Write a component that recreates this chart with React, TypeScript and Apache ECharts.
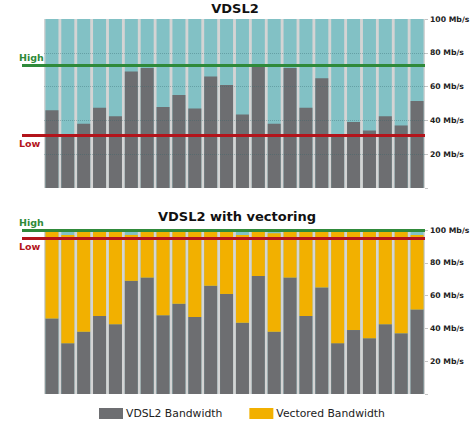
import React, { useEffect, useRef } from "react";
import * as echarts from "echarts";

const categories = [
  "L1", "L2", "L3", "L4", "L5", "L6", "L7", "L8", "L9", "L10", "L11", "L12",
  "L13", "L14", "L15", "L16", "L17", "L18", "L19", "L20", "L21", "L22", "L23", "L24",
];
const lineCapacity = [
  100, 100, 100, 100, 100, 100, 100, 100, 100, 100, 100, 100,
  100, 100, 100, 100, 100, 100, 100, 100, 100, 100, 100, 100,
];
const vdsl2Bandwidth = [
  46, 31, 38, 47.5, 42.5, 69, 71, 48, 55, 47, 66, 61,
  43.5, 72, 38, 71, 47.5, 65, 31, 39, 34, 42.5, 37, 51.5,
];
const vectoredTotal = [
  99, 97, 99, 99, 99, 97, 99, 99, 99, 99, 99, 99,
  97, 99, 98, 99, 99, 99, 99, 99, 99, 99, 99, 97,
];
const topHighLow = [72.5, 31];
const vecHighLow = [100, 95];
const yTicks = [0, 20, 40, 60, 80, 100];
const titles = ["VDSL2", "VDSL2 with vectoring"];
const legendNames = ["VDSL2 Bandwidth", "Vectored Bandwidth"];

const TEAL = "#82c1c5";
const GRAY = "#6d6e71";
const ORANGE = "#f2b000";
const GREEN = "#2f8a3a";
const RED = "#b3141b";
const FONT = "DejaVu Sans";

function highLowLines(vals: number[]) {
  const mk = (v: number, name: string, color: string, pos: string) => [
    {
      x: 22,
      yAxis: v,
      lineStyle: { color, width: 3, type: "solid" },
      label: {
        show: true,
        formatter: name,
        position: pos,
        color,
        fontWeight: "bold",
        fontSize: 9.5,
        fontFamily: FONT,
        distance: [-3, 3],
      },
    },
    { x: 425, yAxis: v },
  ];
  return {
    silent: true,
    symbol: ["none", "none"],
    animation: false,
    data: [
      mk(vals[0], "High", GREEN, "insideStartTop"),
      mk(vals[1], "Low", RED, "insideStartBottom"),
    ],
  };
}

function yAxisFor(gridIndex: number, split: boolean) {
  return {
    type: "value",
    gridIndex,
    position: "right",
    min: yTicks[0],
    max: yTicks[yTicks.length - 1],
    interval: yTicks[1] - yTicks[0],
    z: 3,
    axisLine: { show: false },
    axisTick: { show: true, length: 3, lineStyle: { color: "#c4c4c4" } },
    splitLine: {
      show: split,
      showMinLine: false,
      showMaxLine: false,
      lineStyle: { type: "dotted", color: "rgba(50,100,105,0.35)", width: 1 },
    },
    axisLabel: {
      margin: 5,
      fontSize: 7.7,
      fontWeight: "bold",
      fontFamily: FONT,
      color: "#222",
      formatter: (v: number) => (v === 0 ? "" : `${v} Mb/s`),
    },
  };
}

export default function App() {
  const ref = useRef<HTMLDivElement>(null);
  useEffect(() => {
    if (!ref.current) return;
    const chart = echarts.init(ref.current, null, { renderer: "svg" });
    const vectoredExtra = vectoredTotal.map((t, i) => t - vdsl2Bandwidth[i]);
    const barCommon = { barCategoryGap: "18%", barGap: "-100%" };
    chart.setOption({
      animation: false,
      backgroundColor: "#ffffff",
      textStyle: { fontFamily: FONT },
      title: [
        {
          text: titles[0],
          left: 235,
          top: 2,
          padding: 0,
          textAlign: "center",
          textStyle: { fontSize: 13, fontWeight: "bold", color: "#111", fontFamily: FONT },
        },
        {
          text: titles[1],
          left: 237,
          top: 210,
          padding: 0,
          textAlign: "center",
          textStyle: { fontSize: 13, fontWeight: "bold", color: "#111", fontFamily: FONT },
        },
      ],
      legend: {
        data: legendNames,
        top: 408,
        left: 99,
        icon: "rect",
        itemWidth: 24,
        itemHeight: 11,
        itemGap: 27,
        padding: 0,
        selectedMode: false,
        textStyle: { fontSize: 10.8, color: "#222", fontFamily: FONT, padding: [0, 0, 0, -2] },
      },
      grid: [
        { left: 44, top: 19, width: 381, height: 169, show: true, backgroundColor: "#d4d4d4", borderWidth: 0 },
        { left: 44, top: 230, width: 381, height: 164, show: true, backgroundColor: "#d4d4d4", borderWidth: 0 },
      ],
      xAxis: [
        { type: "category", gridIndex: 0, data: categories, show: false },
        { type: "category", gridIndex: 1, data: categories, show: false },
      ],
      yAxis: [yAxisFor(0, true), yAxisFor(1, false)],
      series: [
        {
          name: "Line capacity",
          type: "bar",
          xAxisIndex: 0,
          yAxisIndex: 0,
          data: lineCapacity,
          itemStyle: { color: TEAL },
          ...barCommon,
        },
        {
          name: legendNames[0],
          type: "bar",
          xAxisIndex: 0,
          yAxisIndex: 0,
          data: vdsl2Bandwidth,
          itemStyle: { color: GRAY },
          ...barCommon,
          markLine: highLowLines(topHighLow),
        },
        {
          name: "Line capacity 2",
          type: "bar",
          xAxisIndex: 1,
          yAxisIndex: 1,
          data: lineCapacity,
          itemStyle: { color: TEAL },
          ...barCommon,
        },
        {
          name: legendNames[0],
          type: "bar",
          xAxisIndex: 1,
          yAxisIndex: 1,
          stack: "vec",
          data: vdsl2Bandwidth,
          itemStyle: { color: GRAY },
          ...barCommon,
        },
        {
          name: legendNames[1],
          type: "bar",
          xAxisIndex: 1,
          yAxisIndex: 1,
          stack: "vec",
          data: vectoredExtra,
          itemStyle: { color: ORANGE },
          ...barCommon,
          markLine: highLowLines(vecHighLow),
        },
      ],
    });
    return () => chart.dispose();
  }, []);
  return (
    <div
      ref={ref}
      style={{ position: "fixed", left: 0, top: 0, width: 475, height: 423 }}
    />
  );
}
